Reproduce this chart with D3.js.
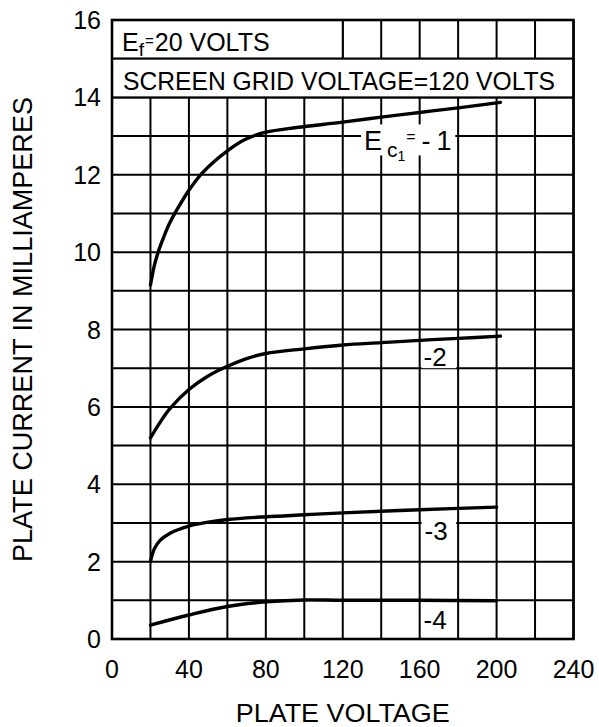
<!DOCTYPE html>
<html>
<head>
<meta charset="utf-8">
<script src="https://cdn.jsdelivr.net/npm/d3@7"></script>
<style>
  html, body { margin: 0; padding: 0; background: #fff; }
  svg { display: block; }
  text { font-family: "Liberation Sans", Arial, sans-serif; fill: #000; }
</style>
</head>
<body>
<svg id="chart" width="599" height="727"></svg>
<script>
// ---- data ----
const voltageTickLabels = [0, 40, 80, 120, 160, 200, 240];
const currentTickLabels = [0, 2, 4, 6, 8, 10, 12, 14, 16];
const voltageGrid = [0, 20, 40, 60, 80, 100, 120, 140, 160, 180, 200, 220, 240];
const currentGrid = [0, 1, 2, 3, 4, 5, 6, 7, 8, 9, 10, 11, 12, 13, 14, 15, 16];

const ec1Minus1 = [[20, 9.15], [22, 9.65], [24, 10.0], [27, 10.4], [30, 10.75], [35, 11.2], [40, 11.6], [47, 12.05], [60, 12.62], [70, 12.93], [80, 13.1], [96, 13.22], [120, 13.36], [140, 13.49], [160, 13.61], [180, 13.73], [202, 13.87]];
const ec1Minus2 = [[20, 5.2], [25, 5.6], [30, 5.95], [40, 6.45], [50, 6.8], [60, 7.05], [70, 7.25], [80, 7.38], [100, 7.5], [120, 7.6], [140, 7.66], [160, 7.72], [180, 7.77], [202, 7.83]];
const ec1Minus3 = [[20, 2.0], [22, 2.33], [25, 2.55], [30, 2.73], [40, 2.92], [50, 3.02], [60, 3.09], [80, 3.16], [100, 3.21], [120, 3.26], [160, 3.34], [200, 3.41]];
const ec1Minus4 = [[20, 0.36], [40, 0.62], [60, 0.84], [80, 0.96], [100, 1.01], [120, 1.0], [160, 1.0], [200, 0.99]];
const seriesList = [ec1Minus1, ec1Minus2, ec1Minus3, ec1Minus4];
const curveLabels = ["-2", "-3", "-4"];

// ---- layout ----
const svg = d3.select("#chart");
const W = 599, H = 727;
const m = { left: 112, top: 20, right: 25.5, bottom: 88 };
const x = d3.scaleLinear().domain([0, 240]).range([m.left, W - m.right]);
const y = d3.scaleLinear().domain([0, 16]).range([H - m.bottom, m.top]);

const g = svg.append("g");

// grid
g.selectAll("line.vg").data(voltageGrid).join("line")
  .attr("x1", d => x(d)).attr("x2", d => x(d))
  .attr("y1", y(0)).attr("y2", y(16))
  .attr("stroke", "#000").attr("stroke-width", 2);
g.selectAll("line.hg").data(currentGrid).join("line")
  .attr("y1", d => y(d)).attr("y2", d => y(d))
  .attr("x1", x(0)).attr("x2", x(240))
  .attr("stroke", "#000").attr("stroke-width", 2);

// header boxes
g.append("rect").attr("x", x(0)).attr("y", y(16)).attr("width", x(120) - x(0)).attr("height", y(15) - y(16))
  .attr("fill", "#fff").attr("stroke", "#000").attr("stroke-width", 2);
g.append("rect").attr("x", x(0)).attr("y", y(15)).attr("width", x(240) - x(0)).attr("height", y(14) - y(15))
  .attr("fill", "#fff").attr("stroke", "#000").attr("stroke-width", 2);

const t1 = g.append("text").attr("x", x(0) + 10).attr("y", y(15) - 8).style("font-size", "25px");
t1.append("tspan").text("E");
t1.append("tspan").attr("dy", 5).style("font-size", "19px").text("f");
t1.append("tspan").attr("dy", -10).attr("dx", 1).style("font-size", "15px").text("=");
t1.append("tspan").attr("dy", 5).attr("dx", 1).text("20 VOLTS");

g.append("text").attr("x", x(0) + 11).attr("y", y(14) - 7).style("font-size", "25px")
  .attr("textLength", 432).attr("lengthAdjust", "spacingAndGlyphs")
  .text("SCREEN GRID VOLTAGE=120 VOLTS");

// label backgrounds (white patches in the grid)
const bgs = [
  [129.5, 178.5, 12.5, 13.3],
  [161, 179, 7.0, 7.5],
  [161, 179, 2.45, 3.05],
  [161, 179, 0.1, 0.95]
];
g.selectAll("rect.bg").data(bgs).join("rect")
  .attr("x", d => x(d[0])).attr("width", d => x(d[1]) - x(d[0]))
  .attr("y", d => y(d[3])).attr("height", d => y(d[2]) - y(d[3]))
  .attr("fill", "#fff");

// curves
const line = d3.line().x(d => x(d[0])).y(d => y(d[1])).curve(d3.curveCatmullRom.alpha(0.5));
g.selectAll("path.curve").data(seriesList).join("path")
  .attr("d", line).attr("fill", "none").attr("stroke", "#000").attr("stroke-width", 3.4)
  .attr("stroke-linecap", "round");

// plot border
g.append("rect").attr("x", x(0)).attr("y", y(16)).attr("width", x(240) - x(0)).attr("height", y(0) - y(16))
  .attr("fill", "none").attr("stroke", "#000").attr("stroke-width", 2.6);

// curve labels
const lab1 = g.append("text").attr("x", x(131)).attr("y", y(12.63)).style("font-size", "27px");
lab1.append("tspan").text("E");
lab1.append("tspan").attr("dy", 7).attr("dx", 5).style("font-size", "21px").text("c");
lab1.append("tspan").attr("dy", 4).attr("dx", 0).style("font-size", "14px").text("1");
lab1.append("tspan").attr("dy", -19).attr("dx", 1).style("font-size", "16px").text("=");
lab1.append("tspan").attr("dy", 8).attr("dx", 6).text("-");
lab1.append("tspan").attr("dx", 6).text("1");

const labelPos = [[162, 7.05], [162.5, 2.55], [162, 0.25]];
g.selectAll("text.cl").data(curveLabels).join("text")
  .attr("x", (d, i) => x(labelPos[i][0])).attr("y", (d, i) => y(labelPos[i][1]))
  .style("font-size", "26px").text(d => d);

// axes tick labels
g.selectAll("text.yt").data(currentTickLabels).join("text")
  .attr("x", m.left - 11).attr("y", d => y(d)).attr("dy", "0.36em")
  .attr("text-anchor", "end").style("font-size", "25px").text(d => d);
g.selectAll("text.xt").data(voltageTickLabels).join("text")
  .attr("x", d => x(d)).attr("y", 678)
  .attr("text-anchor", "middle").style("font-size", "25px").text(d => d);

// axis titles
g.append("text").attr("x", x(120)).attr("y", 722).attr("text-anchor", "middle")
  .style("font-size", "26px").attr("textLength", 214).attr("lengthAdjust", "spacingAndGlyphs")
  .text("PLATE VOLTAGE");
g.append("text").attr("transform", "translate(32," + 329.5 + ") rotate(-90)").attr("text-anchor", "middle")
  .style("font-size", "27px").attr("textLength", 465).attr("lengthAdjust", "spacingAndGlyphs")
  .text("PLATE CURRENT IN MILLIAMPERES");
</script>
</body>
</html>
